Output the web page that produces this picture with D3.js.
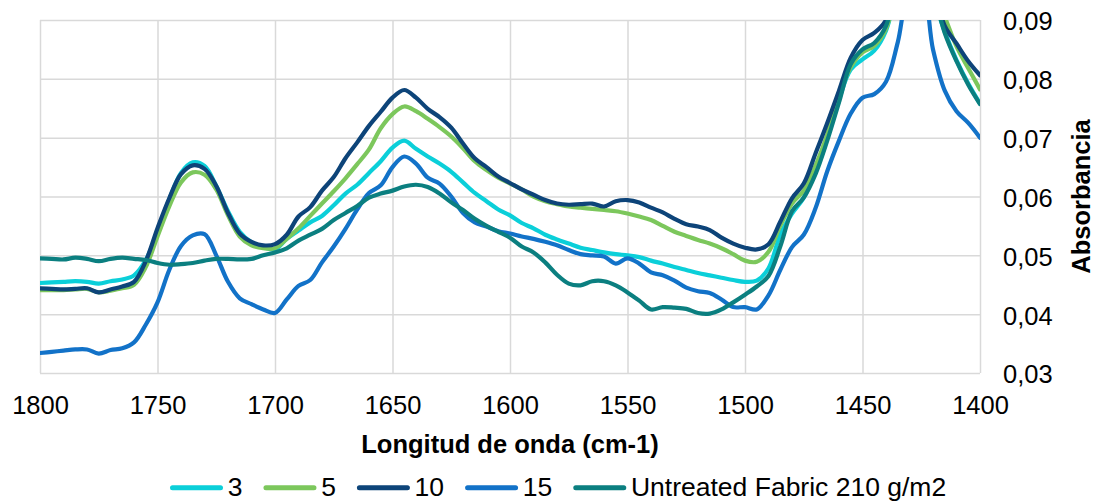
<!DOCTYPE html>
<html>
<head>
<meta charset="utf-8">
<script src="https://cdn.jsdelivr.net/npm/d3@7/dist/d3.min.js"></script>
<style>
  html, body { margin: 0; padding: 0; background: #ffffff; }
  svg { display: block; font-family: "Liberation Sans", Arial, sans-serif; }
</style>
</head>
<body>
<svg id="chart" width="1097" height="503"></svg>
<script>
// ---- data ----
const wavenumbers = [
  1800,1795,1790,1785,1780,1775,1770,1765,1760,1755,
  1750,1745,1740,1735,1730,1725,1720,1715,1710,1705,
  1700,1695,1690,1685,1680,1675,1670,1665,1660,1655,
  1650,1645,1640,1635,1630,1625,1620,1615,1610,1605,
  1600,1595,1590,1585,1580,1575,1570,1565,1560,1555,
  1550,1545,1540,1535,1530,1525,1520,1515,1510,1505,
  1500,1495,1490,1485,1480,1475,1470,1465,1460,1455,
  1450,1445,1440,1435,1430,1425,1420,1415,1410,1405,
  1400
];

const series3 = [
  0.0453,0.0454,0.0455,0.0456,0.0455,0.0452,0.0456,0.0459,0.0466,0.0492,
  0.0540,0.0595,0.0640,0.0658,0.0652,0.0618,0.0575,0.0540,0.0522,0.0514,
  0.0510,0.0528,0.0542,0.0556,0.0567,0.0585,0.0605,0.0620,0.0640,0.0660,
  0.0683,0.0695,0.0681,0.0668,0.0656,0.0642,0.0624,0.0606,0.0592,0.0578,
  0.0568,0.0555,0.0546,0.0535,0.0527,0.0520,0.0513,0.0509,0.0505,0.0502,
  0.0500,0.0497,0.0491,0.0486,0.0480,0.0475,0.0470,0.0466,0.0462,0.0458,
  0.0455,0.0457,0.0478,0.0535,0.0571,0.0598,0.0645,0.0700,0.0765,0.0816,
  0.0833,0.0848,0.0882,0.0960,0.1020,0.1000,0.0940,0.0880,0.0832,0.0792,
  0.0758
];

const series5 = [
  0.0441,0.0441,0.0441,0.0442,0.0443,0.0437,0.0440,0.0444,0.0450,0.0480,
  0.0532,0.0583,0.0624,0.0641,0.0637,0.0612,0.0568,0.0532,0.0517,0.0512,
  0.0512,0.0528,0.0546,0.0567,0.0588,0.0609,0.0631,0.0655,0.0680,0.0716,
  0.0740,0.0753,0.0745,0.0732,0.0718,0.0702,0.0682,0.0660,0.0645,0.0632,
  0.0622,0.0612,0.0600,0.0592,0.0587,0.0583,0.0581,0.0579,0.0577,0.0575,
  0.0571,0.0566,0.0560,0.0550,0.0540,0.0533,0.0526,0.0520,0.0512,0.0502,
  0.0491,0.0489,0.0506,0.0550,0.0588,0.0610,0.0652,0.0705,0.0772,0.0820,
  0.0845,0.0856,0.0885,0.0960,0.1020,0.1000,0.0950,0.0905,0.0855,0.0818,
  0.0782
];

const series10 = [
  0.0444,0.0443,0.0442,0.0443,0.0444,0.0437,0.0442,0.0447,0.0455,0.0490,
  0.0546,0.0597,0.0638,0.0653,0.0647,0.0618,0.0572,0.0537,0.0523,0.0517,
  0.0519,0.0535,0.0566,0.0582,0.0610,0.0633,0.0665,0.0692,0.0720,0.0744,
  0.0768,0.0781,0.0768,0.0749,0.0735,0.0717,0.0690,0.0665,0.0650,0.0634,
  0.0623,0.0612,0.0603,0.0594,0.0588,0.0586,0.0587,0.0588,0.0583,0.0592,
  0.0594,0.0590,0.0581,0.0573,0.0562,0.0553,0.0549,0.0543,0.0530,0.0520,
  0.0513,0.0510,0.0519,0.0557,0.0597,0.0622,0.0673,0.0725,0.0780,0.0836,
  0.0866,0.0878,0.0900,0.0980,0.1040,0.1020,0.0960,0.0890,0.0860,0.0830,
  0.0806
];

const series15 = [
  0.0334,0.0336,0.0338,0.0340,0.0340,0.0333,0.0339,0.0342,0.0352,0.0382,
  0.0420,0.0475,0.0516,0.0534,0.0536,0.0500,0.0455,0.0427,0.0417,0.0408,
  0.0402,0.0425,0.0448,0.0458,0.0488,0.0515,0.0545,0.0578,0.0606,0.0619,
  0.0650,0.0668,0.0656,0.0632,0.0622,0.0600,0.0572,0.0556,0.0549,0.0541,
  0.0537,0.0532,0.0528,0.0523,0.0517,0.0509,0.0502,0.0500,0.0498,0.0486,
  0.0495,0.0486,0.0471,0.0466,0.0457,0.0445,0.0439,0.0436,0.0425,0.0412,
  0.0412,0.0408,0.0432,0.0475,0.0514,0.0535,0.0580,0.0643,0.0695,0.0741,
  0.0768,0.0774,0.0795,0.0862,0.0950,0.0960,0.0850,0.0780,0.0745,0.0725,
  0.0700
];

const seriesUntreated = [
  0.0495,0.0494,0.0493,0.0496,0.0494,0.0490,0.0494,0.0496,0.0494,0.0492,
  0.0487,0.0484,0.0485,0.0487,0.0491,0.0494,0.0494,0.0493,0.0494,0.0500,
  0.0505,0.0512,0.0525,0.0535,0.0545,0.0560,0.0572,0.0584,0.0598,0.0605,
  0.0610,0.0617,0.0620,0.0616,0.0605,0.0590,0.0577,0.0562,0.0550,0.0540,
  0.0530,0.0515,0.0505,0.0488,0.0467,0.0452,0.0449,0.0456,0.0456,0.0449,
  0.0437,0.0423,0.0408,0.0412,0.0411,0.0409,0.0402,0.0401,0.0408,0.0420,
  0.0433,0.0447,0.0465,0.0515,0.0575,0.0598,0.0638,0.0695,0.0760,0.0825,
  0.0850,0.0861,0.0890,0.0970,0.1030,0.1010,0.0950,0.0878,0.0830,0.0790,
  0.0757
];

const seriesNames = ["3", "5", "10", "15", "Untreated Fabric 210 g/m2"];
const seriesValues = [series3, series5, series10, series15, seriesUntreated];
const seriesColors = ["#0bcfd9", "#7cc75c", "#0d4479", "#1272c8", "#0b7f80"];

const xTicks = [1800, 1750, 1700, 1650, 1600, 1550, 1500, 1450, 1400];
const yTicks = [0.03, 0.04, 0.05, 0.06, 0.07, 0.08, 0.09];

const xTitle = "Longitud de onda (cm-1)";
const yTitle = "Absorbancia";

// ---- layout ----
const svg = d3.select("#chart");
const L = 40, R = 980, T = 20, B = 373;
const FONT = 25.5;
const LEGFONT = 26.5;
const gridColor = "#d9d9d9";

const x = d3.scaleLinear().domain([1800, 1400]).range([L, R]);
const y = d3.scaleLinear().domain([0.03, 0.09]).range([B, T]);

// horizontal grid
const gy = svg.append("g").attr("transform", `translate(${L},0)`)
  .call(d3.axisLeft(y).tickValues(yTicks).tickSize(-(R - L)).tickFormat(""));
gy.select(".domain").remove();
gy.selectAll("line").attr("stroke", gridColor).attr("stroke-width", 1.5);

// vertical grid
const gx = svg.append("g").attr("transform", `translate(0,${B})`)
  .call(d3.axisBottom(x).tickValues(xTicks).tickSize(-(B - T)).tickFormat(""));
gx.select(".domain").remove();
gx.selectAll("line").attr("stroke", gridColor).attr("stroke-width", 1.5);

// x tick labels
const xa = svg.append("g").attr("transform", `translate(0,${B})`)
  .call(d3.axisBottom(x).tickValues(xTicks).tickSize(0).tickPadding(23).tickFormat(d3.format("d")));
xa.select(".domain").remove();
xa.selectAll("text").attr("font-size", FONT).attr("fill", "#000")
  .attr("font-family", "'Liberation Sans', Arial, sans-serif");

// y tick labels on right
const ya = svg.append("g").attr("transform", `translate(${R},0)`)
  .call(d3.axisRight(y).tickValues(yTicks).tickSize(0).tickPadding(23)
    .tickFormat(d => d3.format(".2f")(d).replace(".", ",")));
ya.select(".domain").remove();
ya.selectAll("text").attr("font-size", FONT).attr("fill", "#000").attr("dy", "0.39em")
  .attr("font-family", "'Liberation Sans', Arial, sans-serif");

// clip
svg.append("defs").append("clipPath").attr("id", "plotclip")
  .append("rect").attr("x", L).attr("y", T).attr("width", R - L).attr("height", B - T);

const line = d3.line()
  .x((d, i) => x(wavenumbers[i]))
  .y(d => y(d))
  .curve(d3.curveCatmullRom.alpha(0.5));

const lines = svg.append("g").attr("clip-path", "url(#plotclip)");
seriesValues.forEach((vals, k) => {
  lines.append("path")
    .attr("d", line(vals))
    .attr("fill", "none")
    .attr("stroke", seriesColors[k])
    .attr("stroke-width", 4.2)
    .attr("stroke-linejoin", "round")
    .attr("stroke-linecap", "round");
});

// axis titles
svg.append("text")
  .attr("x", (L + R) / 2).attr("y", 453)
  .attr("text-anchor", "middle")
  .attr("font-size", FONT).attr("font-weight", "bold")
  .text(xTitle);

svg.append("text")
  .attr("transform", `translate(1090,${(T + B) / 2}) rotate(-90)`)
  .attr("text-anchor", "middle")
  .attr("font-size", FONT).attr("font-weight", "bold")
  .text(yTitle);

// legend
const leg = svg.append("g");
let lx = 170;
const ly = 487.7;
seriesNames.forEach((name, k) => {
  leg.append("line")
    .attr("x1", lx + 2.5).attr("x2", lx + 50.5)
    .attr("y1", ly).attr("y2", ly)
    .attr("stroke", seriesColors[k]).attr("stroke-width", 5)
    .attr("stroke-linecap", "round");
  const t = leg.append("text")
    .attr("x", lx + 57.7).attr("y", 495.5)
    .attr("font-size", LEGFONT).attr("fill", "#000")
    .text(name);
  const w = t.node().getComputedTextLength();
  lx = lx + 57.7 + w + 21;
});
</script>
</body>
</html>
